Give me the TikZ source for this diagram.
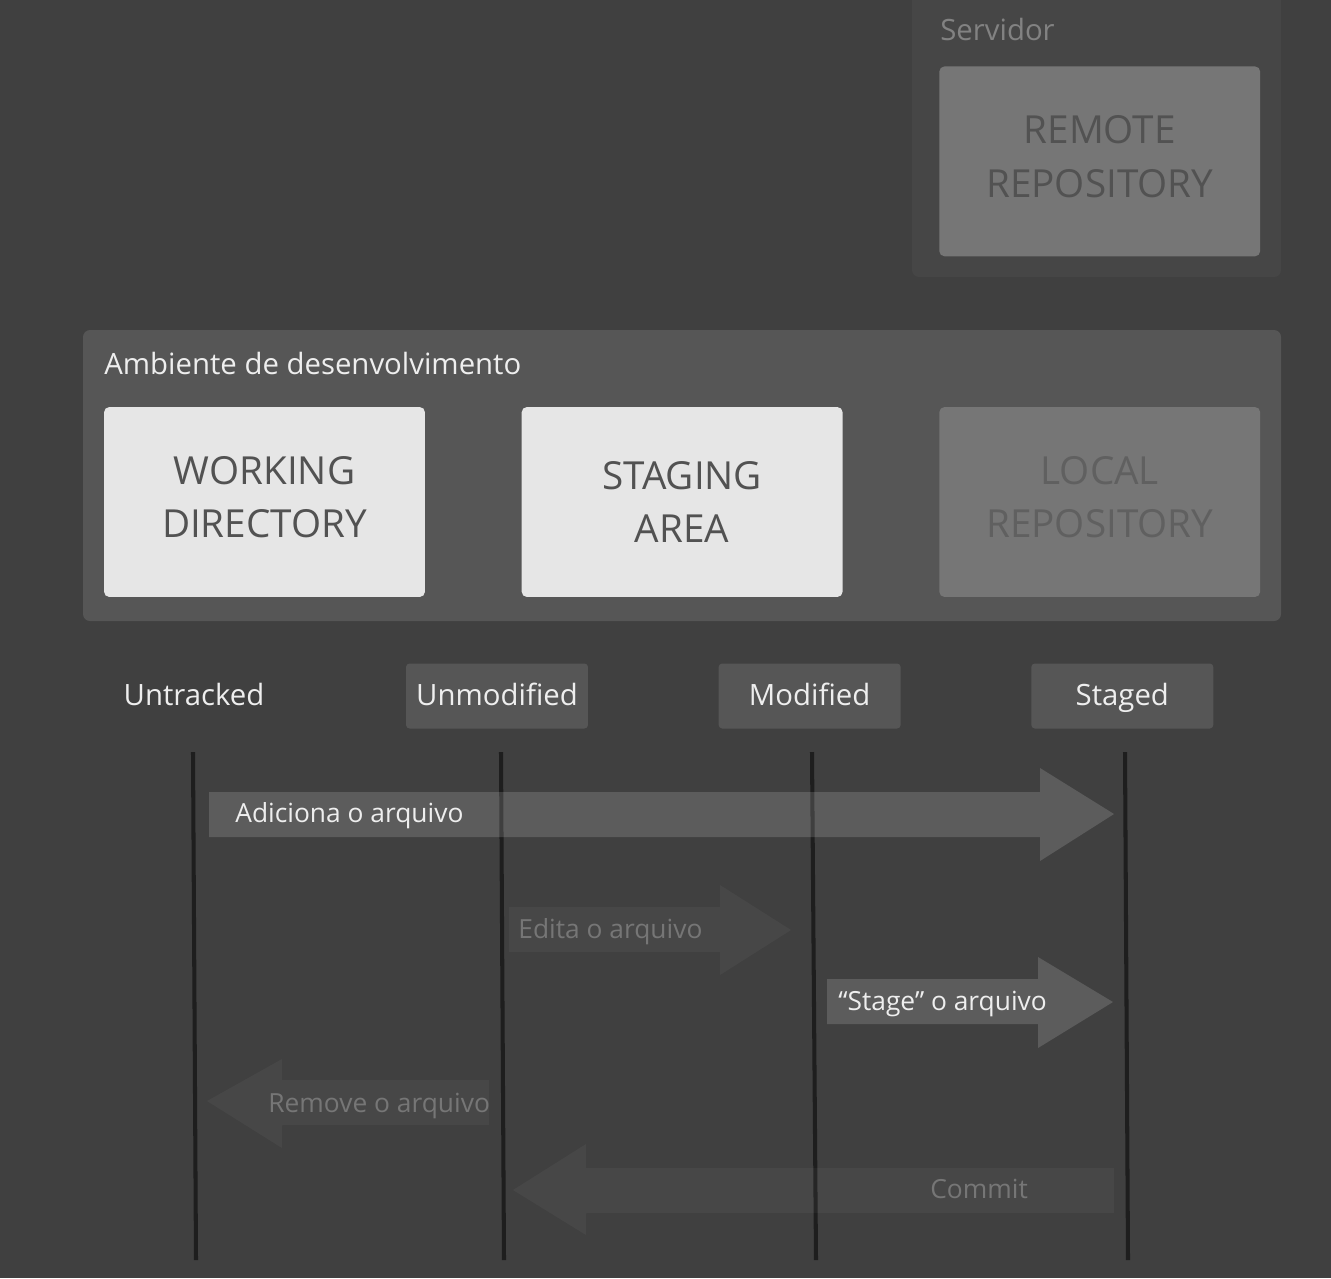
\documentclass[tikz,border=0pt]{standalone}
\usepackage{fontspec}
\setmainfont{Open Sans}
\usetikzlibrary{positioning}

\definecolor{bgdark}{RGB}{64,64,64}
\definecolor{serverpanel}{RGB}{70,70,70}
\definecolor{devpanel}{RGB}{86,86,86}
\definecolor{boxlight}{RGB}{230,230,230}
\definecolor{boxdim}{RGB}{118,118,118}
\definecolor{repotext}{RGB}{82,82,82}
\definecolor{dimtext}{RGB}{96,96,96}
\definecolor{statebox}{RGB}{86,86,86}
\definecolor{labelwhite}{RGB}{238,238,238}
\definecolor{servertext}{RGB}{130,130,130}
\definecolor{fainttext}{RGB}{118,118,118}
\definecolor{lifedark}{RGB}{30,30,30}

\begin{document}
\begin{tikzpicture}[
    x=0.02cm, y=-0.02cm,
    panel/.style={fill=#1, rounded corners=4pt},
    repo/.style={rectangle, rounded corners=3pt, minimum width=6.42cm, minimum height=3.8cm, fill=#1, align=center, font=\fontsize{22}{30.5}\selectfont},
    raised/.style={text depth=0.2cm},
    state/.style={rectangle, rounded corners=2pt, minimum width=3.64cm, minimum height=1.3cm, fill=statebox, text=labelwhite, text height=0.44cm, text depth=0.08cm, font=\fontsize{16.7}{20}\selectfont},
    caption/.style={anchor=base west, inner sep=0pt, font=\fontsize{15}{18}\selectfont, text=#1},
    title/.style={anchor=base west, inner sep=0pt, font=\fontsize{16.7}{20}\selectfont, text=#1},
    lifeline/.style={draw=lifedark, line width=2.3pt},
    flow/.style={fill=white, fill opacity=#1}
]

\useasboundingbox (0,0) rectangle (1331,1278);
\clip (0,0) rectangle (1331,1278);
\fill[bgdark] (0,0) rectangle (1331,1278);

% Servidor
\fill[panel=serverpanel] (912,-20) rectangle (1281,277);
\node[title=servertext] (servidor) at (940,40) {Servidor};

% Ambiente de desenvolvimento
\fill[panel=devpanel] (83,330) rectangle (1281,621);
\node[title=labelwhite] (ambiente) at (104,374) {Ambiente de desenvolvimento};

\node[repo=boxlight, raised, text=repotext] (working) at (264.5,502) {WORKING\\DIRECTORY};
\node[repo=boxlight, text=repotext, right=1.92cm of working] (staging) {STAGING\\AREA};
\node[repo=boxdim, raised, text=dimtext, right=1.92cm of staging] (local) {LOCAL\\REPOSITORY};
\node[repo=boxdim, raised, text=repotext, above=3cm of local] (remote) {REMOTE\\REPOSITORY};

% Estados
\node[state, fill=none] (untracked) at (194,696) {Untracked};
\node[state] (unmodified) at (497,696) {Unmodified};
\node[state, right=2.6cm of unmodified] (modified) {Modified};
\node[state, right=2.6cm of modified] (staged) {Staged};

% Linhas de vida
\foreach \n/\xa/\xb in {untr/193/196, unmo/501/504, modi/812/816, stag/1125/1128} {
    \coordinate (top-\n) at (\xa,752);
    \coordinate (bot-\n) at (\xb,1260);
    \draw[lifeline] (top-\n) -- (bot-\n);
}

% Setas
\fill[flow=0.15] (209,792) -- (1040,792) -- (1040,768) -- (1114,814) -- (1040,861) -- (1040,837) -- (209,837) -- cycle;
\node[caption=labelwhite] (adiciona) at (235,822) {Adiciona o arquivo};

\fill[flow=0.04] (509,907) -- (720,907) -- (720,885) -- (791,930) -- (720,975) -- (720,952) -- (509,952) -- cycle;
\node[caption=fainttext] (edita) at (518,938) {Edita o arquivo};

\fill[flow=0.15] (827,979) -- (1038,979) -- (1038,957) -- (1113,1002) -- (1038,1048) -- (1038,1024) -- (827,1024) -- cycle;
\node[caption=labelwhite] (stage) at (838,1010) {“Stage” o arquivo};

\fill[flow=0.04] (489,1080) -- (282,1080) -- (282,1059) -- (207,1101) -- (282,1148) -- (282,1125) -- (489,1125) -- cycle;
\node[caption=fainttext] (remove) at (268,1112) {Remove o arquivo};

\fill[flow=0.04] (1114,1168) -- (586,1168) -- (586,1144) -- (513,1190) -- (586,1235) -- (586,1213) -- (1114,1213) -- cycle;
\node[caption=fainttext] (commit) at (930,1198) {Commit};

\end{tikzpicture}
\end{document}
